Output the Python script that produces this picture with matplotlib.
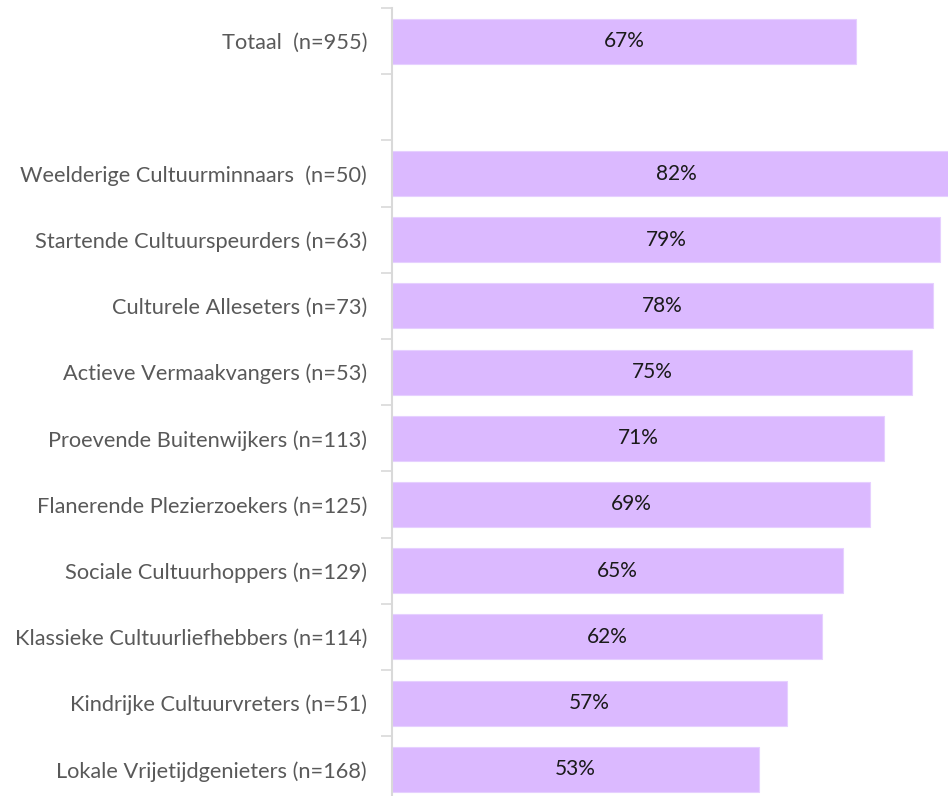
import numpy as np
import matplotlib
matplotlib.use('Agg')
import matplotlib.pyplot as plt

plt.rcParams['font.family'] = ['Lato', 'DejaVu Sans']

# categories (top to bottom); None = empty slot under the total
labels = ['Totaal  (n=955)', None,
          'Weelderige Cultuurminnaars  (n=50)',
          'Startende Cultuurspeurders (n=63)',
          'Culturele Alleseters (n=73)',
          'Actieve Vermaakvangers (n=53)',
          'Proevende Buitenwijkers (n=113)',
          'Flanerende Plezierzoekers (n=125)',
          'Sociale Cultuurhoppers (n=129)',
          'Klassieke Cultuurliefhebbers (n=114)',
          'Kindrijke Cultuurvreters (n=51)',
          'Lokale Vrijetijdgenieters (n=168)']
values = [67, None, 82, 79, 78, 75, 71, 69, 65, 62, 57, 53]

BAR_COLOR = '#dbb9ff'
GRID_COLOR = '#d9d9d9'

fig = plt.figure(figsize=(9.48, 7.96), dpi=100)
ax = fig.add_axes([392 / 948, -6.4 / 796, 556 / 948, 794.4 / 796])

pos = np.arange(len(labels))
for p, v in zip(pos, values):
    if v is None:
        continue
    ax.barh(p, v, height=0.68, color=BAR_COLOR, edgecolor='#e6d0ff', lw=0.8)
    ax.text(v / 2, p, '%d%%' % v, ha='center', va='center',
            fontsize=15, color='#1a1a1a')

ax.set_xlim(0, 80.2)
ax.set_ylim(len(labels) - 0.5, -0.5)
ax.set_yticks(pos)
ax.set_yticklabels([l if l else '' for l in labels], fontsize=15.7, color='#595959')
ax.set_yticks(np.arange(-0.5, len(labels)), minor=True)
ax.tick_params(axis='y', which='major', length=0, pad=18)
ax.tick_params(axis='y', which='minor', length=8, width=1.2, color=GRID_COLOR)
ax.set_xticks([])
for s in ['top', 'right', 'bottom']:
    ax.spines[s].set_visible(False)
ax.spines['left'].set_color(GRID_COLOR)
ax.spines['left'].set_linewidth(1.5)

fig.savefig('out.png', dpi=100)
